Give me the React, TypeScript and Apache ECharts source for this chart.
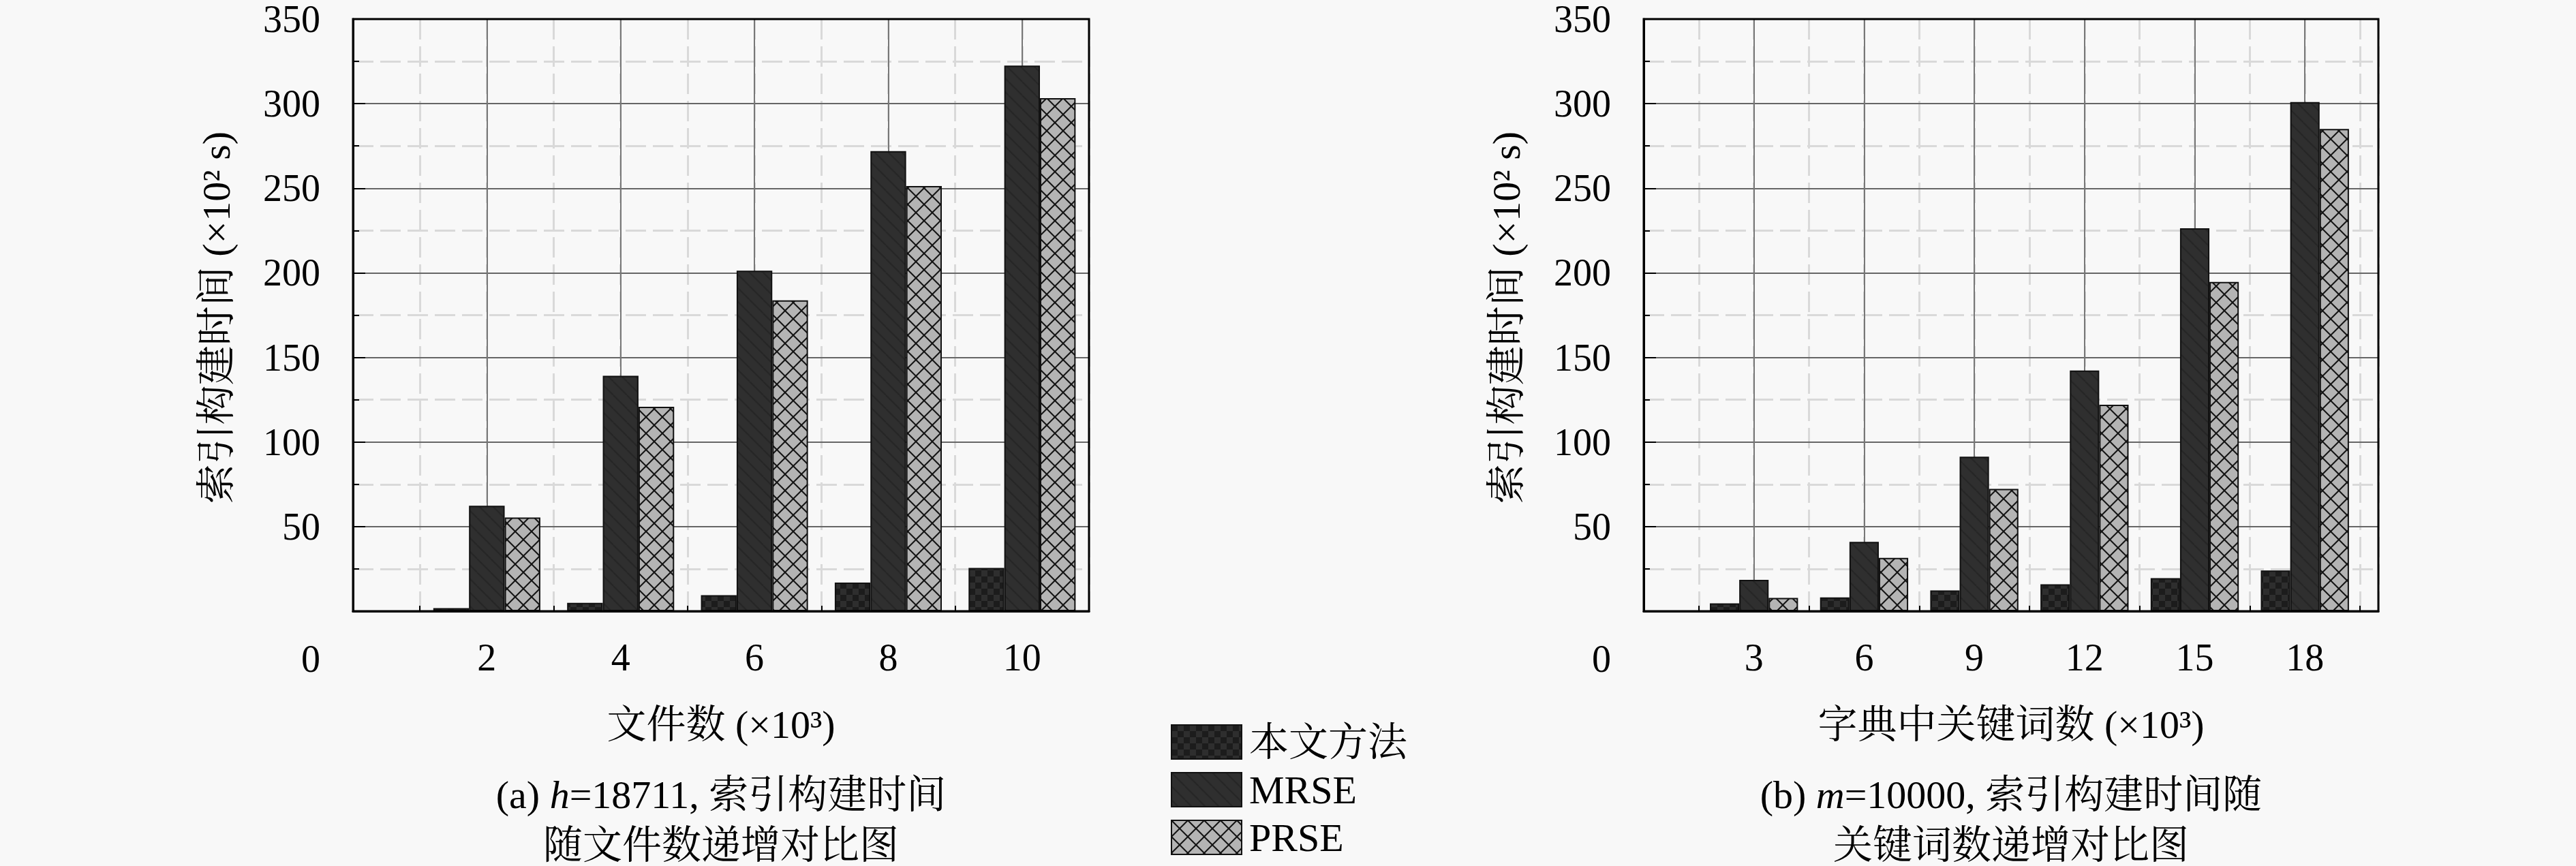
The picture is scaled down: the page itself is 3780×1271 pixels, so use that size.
import React, { useEffect, useRef } from "react";
import * as echarts from "echarts";

// ---------------- data ----------------
const seriesNames = ["本文方法", "MRSE", "PRSE"];

// (a) x = 文件数 (×10³)
const leftCats = [2, 4, 6, 8, 10];
const leftOurs = [1.8, 4.9, 9.5, 16.9, 25.6];
const leftMRSE = [62.3, 139.2, 201.3, 272.0, 322.5];
const leftPRSE = [55.4, 120.8, 183.8, 251.3, 303.3];

// (b) x = 字典中关键词数 (×10³)
const rightCats = [3, 6, 9, 12, 15, 18];
const rightOurs = [4.6, 8.2, 12.3, 15.9, 19.5, 24.1];
const rightMRSE = [18.5, 41.0, 91.3, 142.3, 226.4, 301.0];
const rightPRSE = [7.9, 31.5, 72.3, 122.0, 194.6, 285.1];

const yMin = 0;
const yMax = 350;
const yStep = 50;
const leftXMax = 11;
const rightXMax = 20;
const leftXStep = 2;
const rightXStep = 3;
const leftMinorStep = 1;
const rightMinorStep = 1.5;

const yTitle = "索引构建时间 (×10² s)";
const leftXTitle = "文件数 (×10³)";
const rightXTitle = "字典中关键词数 (×10³)";
const leftCaption1 = "(a) {i|h}=18711, 索引构建时间";
const leftCaption2 = "随文件数递增对比图";
const rightCaption1 = "(b) {i|m}=10000, 索引构建时间随";
const rightCaption2 = "关键词数递增对比图";

// ---------------- layout ----------------
const W = 3780;
const H = 1271;
const FONT = '"Liberation Serif", "Noto Serif CJK SC", "Noto Sans CJK SC", serif';
const BG = "#f8f8f8";
const GT = 28;
const GH = 869;
const L = { left: 518, width: 1080 };
const R = { left: 2412, width: 1078 };
const LABEL_Y = 967;

function makePattern(kind: string) {
  const c = document.createElement("canvas");
  let size = 24;
  if (kind === "ours") size = 18;
  if (kind === "mrse") size = 20;
  c.width = size;
  c.height = size;
  const ctx = c.getContext("2d")!;
  if (kind === "ours") {
    ctx.fillStyle = "#2e2e2e";
    ctx.fillRect(0, 0, size, size);
    ctx.fillStyle = "#1c1c1c";
    ctx.fillRect(0, 0, size / 2, size / 2);
    ctx.fillRect(size / 2, size / 2, size / 2, size / 2);
  } else if (kind === "mrse") {
    ctx.fillStyle = "#2f2f2f";
    ctx.fillRect(0, 0, size, size);
    ctx.strokeStyle = "#262626";
    ctx.lineWidth = 2;
    for (const k of [-size, 0, size]) {
      ctx.beginPath();
      ctx.moveTo(k, 0);
      ctx.lineTo(k + size, size);
      ctx.stroke();
    }
  } else {
    ctx.fillStyle = "#b4b4b4";
    ctx.fillRect(0, 0, size, size);
    ctx.strokeStyle = "#141414";
    ctx.lineWidth = 2;
    for (const k of [-size, 0, size]) {
      ctx.beginPath();
      ctx.moveTo(k, 0);
      ctx.lineTo(k + size, size);
      ctx.stroke();
      ctx.beginPath();
      ctx.moveTo(k + size, 0);
      ctx.lineTo(k, size);
      ctx.stroke();
    }
  }
  return { image: c, repeat: "repeat", imageWidth: size, imageHeight: size };
}

function textEl(text: string, x: number, y: number, fontSize: number, extra: any = {}) {
  return {
    type: "text",
    x,
    y,
    silent: true,
    rotation: extra.rotation || 0,
    style: {
      text,
      fill: "#000",
      fontSize,
      fontFamily: FONT,
      align: extra.align || "center",
      textAlign: extra.align || "center",
      verticalAlign: "middle",
      textVerticalAlign: "middle",
      rich: extra.rich,
    },
  };
}

function buildOption() {
  const patterns = [makePattern("ours"), makePattern("mrse"), makePattern("prse")];
  const labelStyle = { fontSize: 56, fontFamily: FONT, color: "#000" };

  const primaryX = (gridIndex: number, max: number, step: number, cats: number[]) => ({
    type: "value",
    gridIndex,
    min: 0,
    max,
    interval: step,
    position: "bottom",
    z: 1,
    axisLine: { show: true, onZero: false, lineStyle: { color: "#000", width: 3 } },
    axisTick: { show: true, inside: true, length: 17, lineStyle: { color: "#000", width: 2 } },
    axisLabel: {
      ...labelStyle,
      margin: 40,
      showMinLabel: true,
      showMaxLabel: true,
      formatter: (v: number) => (cats.indexOf(v) >= 0 ? String(v) : ""),
    },
    splitLine: { show: true, lineStyle: { color: "#777", width: 2 } },
  });
  const minorX = (gridIndex: number, max: number, step: number) => ({
    type: "value",
    gridIndex,
    min: 0,
    max,
    interval: step,
    position: "bottom",
    z: 0,
    axisLine: { show: false },
    axisTick: { show: true, inside: true, length: 8, lineStyle: { color: "#000", width: 2 } },
    axisLabel: { show: false },
    splitLine: { show: true, lineStyle: { color: "#d9d9d9", width: 3, type: [30, 10] } },
  });
  const yAx = (gridIndex: number) => ({
    type: "value",
    gridIndex,
    min: yMin,
    max: yMax,
    interval: yStep,
    z: 1,
    axisLine: { show: true, onZero: false, lineStyle: { color: "#000", width: 3 } },
    axisTick: { show: true, inside: true, length: 18, lineStyle: { color: "#000", width: 2 } },
    minorTick: { show: true, splitNumber: 2, length: 9, lineStyle: { color: "#000", width: 2 } },
    axisLabel: {
      ...labelStyle,
      margin: 48,
      padding: [8, 0, 0, 0],
      formatter: (v: number) => (v === 0 ? "" : String(v)),
    },
    splitLine: { show: true, lineStyle: { color: "#666", width: 2 } },
    minorSplitLine: { show: true, lineStyle: { color: "#d9d9d9", width: 3, type: [30, 10] } },
  });

  const lbw = ((L.width / leftXMax) * leftXStep * 0.8) / 3;
  const rbw = ((R.width / rightXMax) * rightXStep * 0.8) / 3;

  const mk = (name: string, idx: number, xi: number, yi: number, cats: number[], vals: number[], bw: number) => ({
    type: "bar",
    name,
    xAxisIndex: xi,
    yAxisIndex: yi,
    barWidth: bw,
    barGap: "0%",
    silent: true,
    itemStyle: { color: patterns[idx], borderColor: "#111", borderWidth: 2 },
    data: cats.map((c, i) => [c, vals[i]]),
  });

  const leftVals = [leftOurs, leftMRSE, leftPRSE];
  const rightVals = [rightOurs, rightMRSE, rightPRSE];
  const series: any[] = [];
  seriesNames.forEach((n, i) => series.push(mk(n, i, 0, 0, leftCats, leftVals[i], lbw)));
  seriesNames.forEach((n, i) => series.push(mk(n, i, 2, 1, rightCats, rightVals[i], rbw)));

  const gridBase = { top: GT, height: GH, show: true, z: 5, borderColor: "#000", borderWidth: 3, backgroundColor: "transparent" };
  const italic = { i: { fontStyle: "italic", fontSize: 58, fontFamily: FONT, fill: "#000" } };
  const lc = L.left + L.width / 2;
  const rc = R.left + R.width / 2;

  return {
    animation: false,
    backgroundColor: BG,
    grid: [
      { ...gridBase, left: L.left, width: L.width },
      { ...gridBase, left: R.left, width: R.width },
    ],
    xAxis: [
      primaryX(0, leftXMax, leftXStep, leftCats),
      minorX(0, leftXMax, leftMinorStep),
      primaryX(1, rightXMax, rightXStep, rightCats),
      minorX(1, rightXMax, rightMinorStep),
    ],
    yAxis: [yAx(0), yAx(1)],
    legend: {
      data: seriesNames,
      orient: "vertical",
      left: 1718,
      top: 1060,
      width: 500,
      height: 400,
      padding: 0,
      itemWidth: 103,
      itemHeight: 50,
      itemGap: 12,
      icon: "rect",
      selectedMode: false,
      textStyle: { fontSize: 58, fontFamily: FONT, color: "#000", padding: [0, 0, 0, 6] },
    },
    series,
    graphic: [
      textEl("0", L.left - 48, LABEL_Y, 56, { align: "right" }),
      textEl("0", R.left - 48, LABEL_Y, 56, { align: "right" }),
      textEl(yTitle, 317, 466, 58, { rotation: Math.PI / 2 }),
      textEl(yTitle, 2210, 466, 58, { rotation: Math.PI / 2 }),
      textEl(leftXTitle, lc, 1063, 58),
      textEl(rightXTitle, rc, 1063, 58),
      textEl(leftCaption1, lc, 1166, 58, { rich: italic }),
      textEl(leftCaption2, lc, 1240, 58),
      textEl(rightCaption1, rc, 1166, 58, { rich: italic }),
      textEl(rightCaption2, rc, 1240, 58),
    ],
  };
}

export default function App() {
  const ref = useRef<HTMLDivElement>(null);
  useEffect(() => {
    if (!ref.current) return;
    const chart = echarts.init(ref.current, null, { renderer: "svg" });
    chart.setOption(buildOption() as any);
    return () => chart.dispose();
  }, []);
  return (
    <div
      ref={ref}
      style={{ position: "fixed", left: 0, top: 0, width: W, height: H, background: BG }}
    />
  );
}
